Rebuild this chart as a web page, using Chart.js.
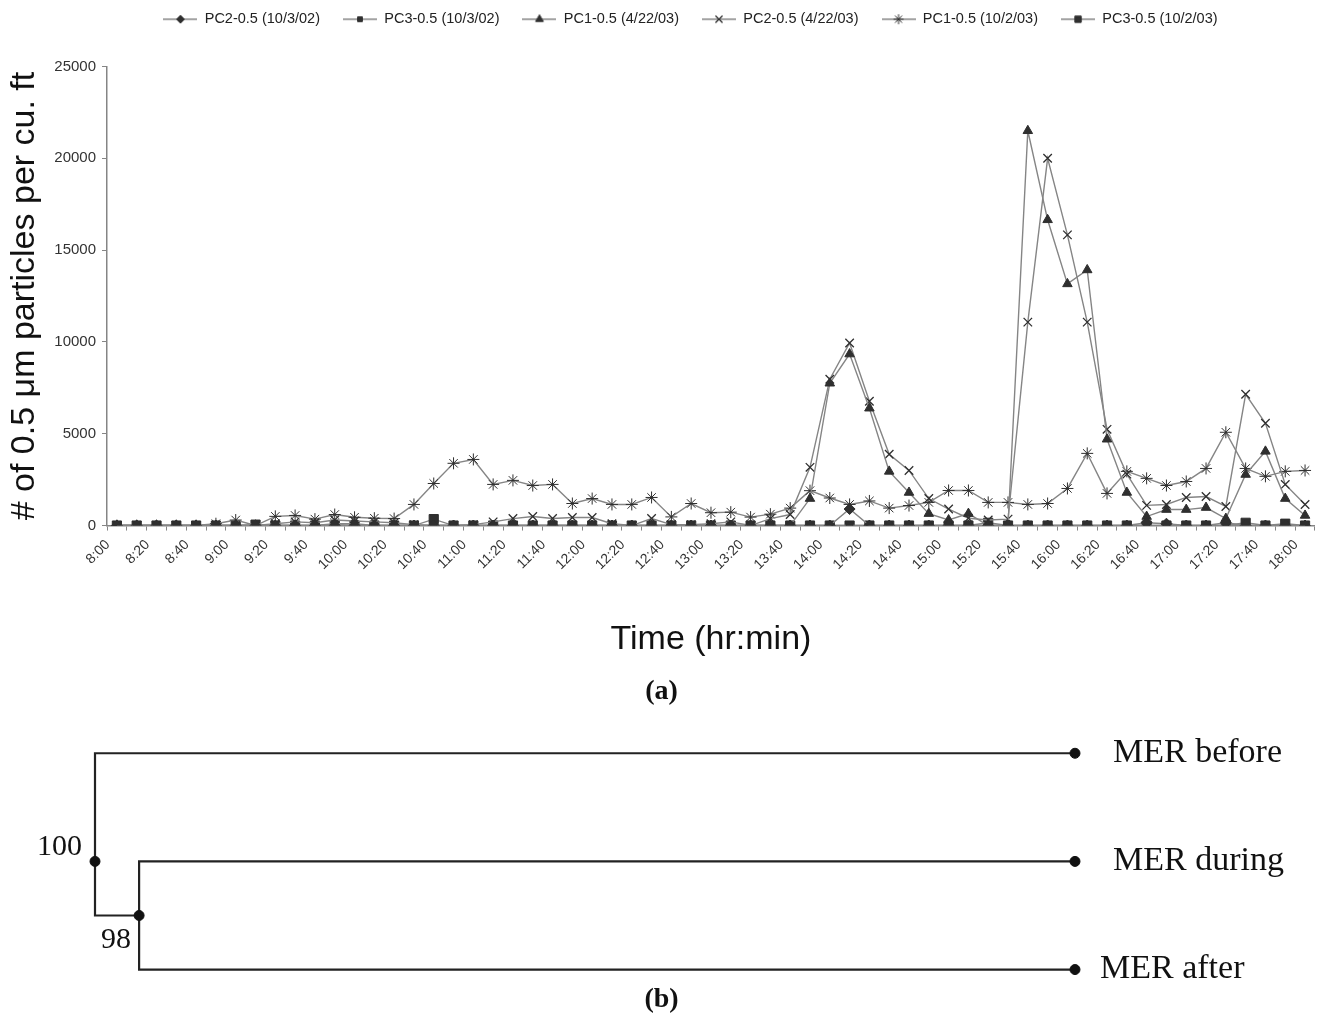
<!DOCTYPE html>
<html>
<head>
<meta charset="UTF-8" />
<title>Particle counts and dendrogram</title>
<style type="text/css">
  body { margin: 0; background: #fff; }
  #page { position: relative; width: 1323px; height: 1013px; }
  .box { position: absolute; left: 0; width: 1323px; }
  .panel { position: absolute; left: 0; width: 1323px; text-align: center;
           font: bold 28px "Liberation Serif", "Times New Roman", serif; color: #111; }
</style>
</head>
<body>
<div id="page">
  <div class="box" style="top:0;height:680px"><canvas id="chartA"></canvas></div>
  <div class="panel" style="top:674px">(a)</div>
  <div class="box" style="top:700px;height:313px"><canvas id="chartB"></canvas></div>
  <div class="panel" style="top:982px">(b)</div>
</div>

<script src="https://cdn.jsdelivr.net/npm/chart.js@4"></script>
<script>
// ---- data (a) : particles per cu. ft, every 10 min from 8:00 to 18:00
const times = ['8:00','8:10','8:20','8:30','8:40','8:50',
  '9:00','9:10','9:20','9:30','9:40','9:50',
  '10:00','10:10','10:20','10:30','10:40','10:50',
  '11:00','11:10','11:20','11:30','11:40','11:50',
  '12:00','12:10','12:20','12:30','12:40','12:50',
  '13:00','13:10','13:20','13:30','13:40','13:50',
  '14:00','14:10','14:20','14:30','14:40','14:50',
  '15:00','15:10','15:20','15:30','15:40','15:50',
  '16:00','16:10','16:20','16:30','16:40','16:50',
  '17:00','17:10','17:20','17:30','17:40','17:50',
  '18:00'];

const pc2_100302 = [0,0,0,0,0,0, 0,0,0,0,0,0, 0,0,0,0,0,0, 0,0,0,0,0,0, 0,0,0,0,0,0,
  0,0,0,0,0,0, 0,900,0,0,0,0, 0,0,0,0,0,0, 0,0,0,0,150,100, 0,0,150,0,0,0, 0];
const pc3_100302 = [0,0,0,0,0,0, 0,0,0,0,0,100, 100,0,0,0,0,0, 0,0,0,0,0,0, 0,0,0,0,0,0,
  0,0,0,0,0,0, 0,0,0,0,0,0, 0,0,0,0,0,0, 0,0,0,0,0,0, 0,0,0,0,0,0, 0];
const pc1_42203 = [0,0,0,0,0,0, 0,0,0,0,0,0, 0,0,0,0,0,0, 0,0,0,0,0,0, 0,0,0,0,0,0,
  0,0,0,0,0,1470, 7750,9340,6390,2950,1800,650, 300,650,0,0,21500,16650,
  13160,13920,4700,1800,490,870, 870,980,380,2780,4040,1470, 550];
const pc2_42203 = [0,0,0,0,0,0, 0,0,100,200,150,300, 250,200,150,50,0,0, 50,200,380,490,380,440,
  440,100,0,380,50,50, 100,200,0,380,600,3170, 7970,9940,6770,3880,3000,1470,
  900,400,300,350,11080,20000, 15830,11080,5240,2800,1100,1150, 1530,1580,1040,7150,5570,2240, 1150];
const pc1_10203 = [0,0,0,0,0,100, 300,0,500,550,350,600, 450,400,380,1150,2290,3390,
  3600,2240,2460,2180,2240,1200, 1470,1150,1150,1530,470,1200, 700,730,460,620,950,1900,
  1500,1150,1340,950,1090,1260, 1910,1910,1260,1260,1150,1200, 2020,3930,1750,2950,2570,2180,
  2400,3110,5080,3110,2680,2950, 3000];
const pc3_10203 = [0,0,0,0,0,0, 0,50,0,0,0,50, 0,0,0,0,350,0, 0,0,0,0,0,0, 0,0,0,0,0,0,
  0,0,0,0,0,0, 0,0,0,0,0,0, 0,0,150,0,0,0, 0,0,0,0,0,0, 0,0,0,150,0,100, 0];

const seriesNames = ['PC2-0.5 (10/3/02)', 'PC3-0.5 (10/3/02)', 'PC1-0.5 (4/22/03)',
  'PC2-0.5 (4/22/03)', 'PC1-0.5 (10/2/03)', 'PC3-0.5 (10/2/03)'];
const seriesData = [pc2_100302, pc3_100302, pc1_42203, pc2_42203, pc1_10203, pc3_10203];
const yTicks = [0, 5000, 10000, 15000, 20000, 25000];

// ---- data (b) : dendrogram
const leafNames = ['MER before', 'MER during', 'MER after'];
const leafY = [1, 2, 3];
const leafDist = 1;
const nodeNames = ['100', '98'];
const nodeX = [0, 0.045];
const nodeY = [2, 2.5];

// styles
const lineGrey = '#858585';
const markDark = '#2f2f2f';
const markers = [
  {pointStyle: 'rectRot', radius: 5.5, legendRadius: 4, borderWidth: 1},
  {pointStyle: 'rect', radius: 4.5, legendRadius: 3.4, borderWidth: 1},
  {pointStyle: 'triangle', radius: 5.5, legendRadius: 4.5, borderWidth: 1},
  {pointStyle: 'crossRot', radius: 6, legendRadius: 5, borderWidth: 1.3},
  {pointStyle: 'star', radius: 6, legendRadius: 5, borderWidth: 1},
  {pointStyle: 'rect', radius: 6.5, legendRadius: 4.5, borderWidth: 1}
];

Chart.defaults.font.family = '"Liberation Sans", Arial, sans-serif';
Chart.defaults.color = '#333';

// legend glyph: short grey line with the marker in the middle
function legendIcon(m) {
  const c = document.createElement('canvas');
  c.width = 34; c.height = 14;
  const g = c.getContext('2d');
  g.strokeStyle = lineGrey; g.lineWidth = 1.3;
  g.beginPath(); g.moveTo(0, 7); g.lineTo(34, 7); g.stroke();
  g.fillStyle = markDark; g.strokeStyle = markDark; g.lineWidth = m.borderWidth;
  Chart.helpers.drawPoint(g, {pointStyle: m.pointStyle, radius: m.legendRadius,
    borderWidth: m.borderWidth, rotation: 0}, 17, 7);
  return c;
}
const icons = markers.map(legendIcon);

// legend sits higher and a bit right of centre, with extra room below it
const legendRoom = {
  id: 'legendRoom',
  beforeInit(chart) {
    const fit = chart.legend.fit;
    chart.legend.fit = function () { fit.bind(chart.legend)(); this.height += 19; };
  },
  afterLayout(chart) {
    const lg = chart.legend;
    lg.left += 31; lg.right += 31;
    lg.top -= 11; lg.bottom -= 11;
  }
};

const datasetsA = seriesNames.map((name, i) => ({
  label: name,
  data: seriesData[i],
  borderColor: lineGrey,
  borderWidth: 1.4,
  tension: 0,
  pointStyle: markers[i].pointStyle,
  pointRadius: markers[i].radius,
  pointBorderWidth: markers[i].borderWidth,
  pointBackgroundColor: markDark,
  pointBorderColor: markDark
}));

new Chart(document.getElementById('chartA'), {
  type: 'line',
  data: { labels: times, datasets: datasetsA },
  options: {
    responsive: true,
    maintainAspectRatio: false,
    animation: false,
    layout: { padding: { left: 4, right: 8, top: 0, bottom: 0 } },
    plugins: {
      tooltip: { enabled: false },
      legend: {
        position: 'top',
        labels: {
          usePointStyle: true,
          pointStyleWidth: 34,
          boxHeight: 14,
          padding: 23,
          color: '#222',
          font: { size: 14.5 },
          generateLabels(chart) {
            const items = Chart.defaults.plugins.legend.labels.generateLabels(chart);
            items.forEach((it, i) => { it.pointStyle = icons[i]; });
            return items;
          }
        }
      }
    },
    scales: {
      x: {
        offset: true,
        grid: { offset: true, drawOnChartArea: false, drawTicks: true, tickLength: 5, color: lineGrey },
        border: { color: lineGrey, width: 1.5 },
        ticks: {
          autoSkip: false, minRotation: 45, maxRotation: 45, labelOffset: -9, padding: 6,
          font: { size: 14 }, color: '#333',
          callback: (v, i) => (i % 2 === 0 ? times[i] : '')
        },
        title: {
          display: true, text: 'Time (hr:min)', color: '#111',
          font: { size: 34 }, padding: { top: 40, bottom: 20 }
        }
      },
      y: {
        min: 0, max: 25000,
        afterFit: (scale) => { scale.width = 103; },
        afterBuildTicks: (axis) => { axis.ticks = yTicks.map(v => ({ value: v })); },
        grid: { drawOnChartArea: false, tickLength: 5, color: lineGrey },
        border: { color: lineGrey, width: 1.5 },
        ticks: { font: { size: 15 }, color: '#333', padding: 6, callback: (v) => String(v) },
        title: {
          display: true, text: '# of 0.5 \u03bcm particles per cu. ft', color: '#111',
          font: { size: 34 }, padding: 0
        }
      }
    }
  },
  plugins: [legendRoom]
});

// ---- (b) dendrogram
const topBranch = [
  { x: leafDist, y: leafY[0] }, { x: nodeX[0], y: leafY[0] },
  { x: nodeX[0], y: nodeY[1] }, { x: nodeX[1], y: nodeY[1] }
];
const lowBranch = [
  { x: leafDist, y: leafY[1] }, { x: nodeX[1], y: leafY[1] },
  { x: nodeX[1], y: leafY[2] }, { x: leafDist, y: leafY[2] }
];
const dots = leafY.map(y => ({ x: leafDist, y }))
  .concat(nodeX.map((x, i) => ({ x, y: nodeY[i] })));

const serif = '"Liberation Serif", "Times New Roman", serif';
const nodeLabelDx = [-13, -8];
const nodeLabelDy = [-14, 25];
const leafLabelDx = [38, 38, 25];
const treeLabels = {
  id: 'treeLabels',
  afterDatasetsDraw(chart) {
    const { ctx, scales: { x, y } } = chart;
    ctx.save();
    ctx.fillStyle = '#111';
    ctx.textBaseline = 'middle';
    ctx.font = '30px ' + serif;
    ctx.textAlign = 'right';
    nodeNames.forEach((t, i) => {
      ctx.fillText(t, x.getPixelForValue(nodeX[i]) + nodeLabelDx[i],
        y.getPixelForValue(nodeY[i]) + nodeLabelDy[i]);
    });
    ctx.font = '34px ' + serif;
    ctx.textAlign = 'left';
    leafNames.forEach((t, i) => {
      ctx.fillText(t, x.getPixelForValue(leafDist) + leafLabelDx[i], y.getPixelForValue(leafY[i]));
    });
    ctx.restore();
  }
};

new Chart(document.getElementById('chartB'), {
  type: 'scatter',
  data: {
    datasets: [
      { data: dots, pointRadius: 5, pointBackgroundColor: '#111', pointBorderColor: '#111', clip: false },
      { data: topBranch, showLine: true, borderColor: '#222', borderWidth: 2.2, pointRadius: 0, clip: false },
      { data: lowBranch, showLine: true, borderColor: '#222', borderWidth: 2.2, pointRadius: 0, clip: false }
    ]
  },
  options: {
    responsive: true,
    maintainAspectRatio: false,
    animation: false,
    layout: { padding: { left: 95, right: 248, top: 10, bottom: 11 } },
    plugins: { legend: { display: false }, tooltip: { enabled: false } },
    scales: {
      x: { type: 'linear', display: false, min: 0, max: 1 },
      y: { type: 'linear', display: false, reverse: true, min: 0.6, max: 3.3 }
    }
  },
  plugins: [treeLabels]
});
</script>
</body>
</html>
